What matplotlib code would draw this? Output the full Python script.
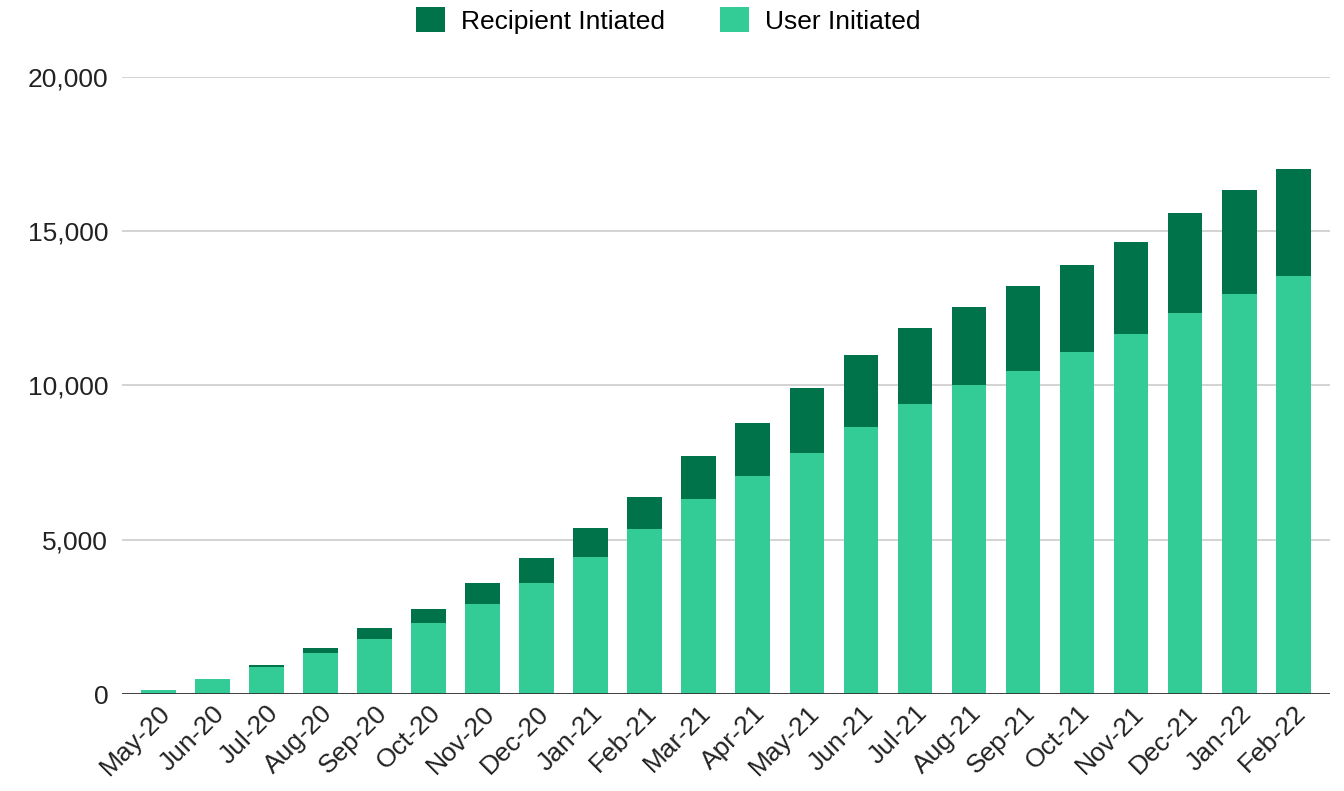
import matplotlib.pyplot as plt
from matplotlib.ticker import FuncFormatter

# -----------------------------------------------------------------------------
# Data
# -----------------------------------------------------------------------------
months = ['May-20', 'Jun-20', 'Jul-20', 'Aug-20', 'Sep-20', 'Oct-20', 'Nov-20',
          'Dec-20', 'Jan-21', 'Feb-21', 'Mar-21', 'Apr-21', 'May-21', 'Jun-21',
          'Jul-21', 'Aug-21', 'Sep-21', 'Oct-21', 'Nov-21', 'Dec-21', 'Jan-22',
          'Feb-22']
user_initiated = [130, 490, 875, 1330, 1790, 2300, 2920, 3600, 4440, 5350,
                  6320, 7070, 7810, 8655, 9400, 10015, 10470, 11085, 11670,
                  12350, 12965, 13550]
total = [130, 490, 950, 1490, 2140, 2755, 3600, 4410, 5380, 6385, 7715, 8785,
         9920, 10990, 11865, 12545, 13225, 13905, 14650, 15590, 16340, 17020]
recipient_initiated = [t - u for t, u in zip(total, user_initiated)]

# -----------------------------------------------------------------------------
# Plot
# -----------------------------------------------------------------------------
plt.rcParams['font.family'] = ['Liberation Sans', 'DejaVu Sans']

fig = plt.figure(figsize=(13.44, 7.91), dpi=100)
ax = fig.add_axes([0.0908, 0.1226, 0.8988, 0.7801])

light = '#33cc96'
dark = '#00734a'
x = range(len(months))
ax.bar(x, user_initiated, width=0.64, color=light, label='User Initiated', zorder=2)
ax.bar(x, recipient_initiated, width=0.64, bottom=user_initiated, color=dark,
       label='Recipient Intiated', zorder=2)

ax.set_ylim(0, 20000)
ax.set_xlim(-0.67, len(months) - 1 + 0.68)
ax.set_yticks([0, 5000, 10000, 15000, 20000])
ax.yaxis.set_major_formatter(FuncFormatter(lambda v, p: f'{int(v):,}'))
ax.grid(axis='y', color='#cccccc', linewidth=1.2, zorder=0)
ax.axhline(0, color='#333333', linewidth=2, zorder=3)

for s in ax.spines.values():
    s.set_visible(False)
ax.tick_params(axis='y', length=0, pad=10, labelsize=19, labelcolor='#222222')
ax.tick_params(axis='x', length=0, pad=5, labelsize=19, labelcolor='#222222')
ax.set_xticks(list(x))
ax.set_xticklabels(months, rotation=45, ha='right', rotation_mode='anchor')

handles, labels = ax.get_legend_handles_labels()
fig.legend(handles[::-1], labels[::-1], loc='upper center', ncol=2,
           bbox_to_anchor=(0.497, 1.021), frameon=False, fontsize=19,
           handlelength=1.1, handleheight=1.1, handletextpad=0.6,
           columnspacing=2.1)

fig.savefig('out.png', dpi=100)
